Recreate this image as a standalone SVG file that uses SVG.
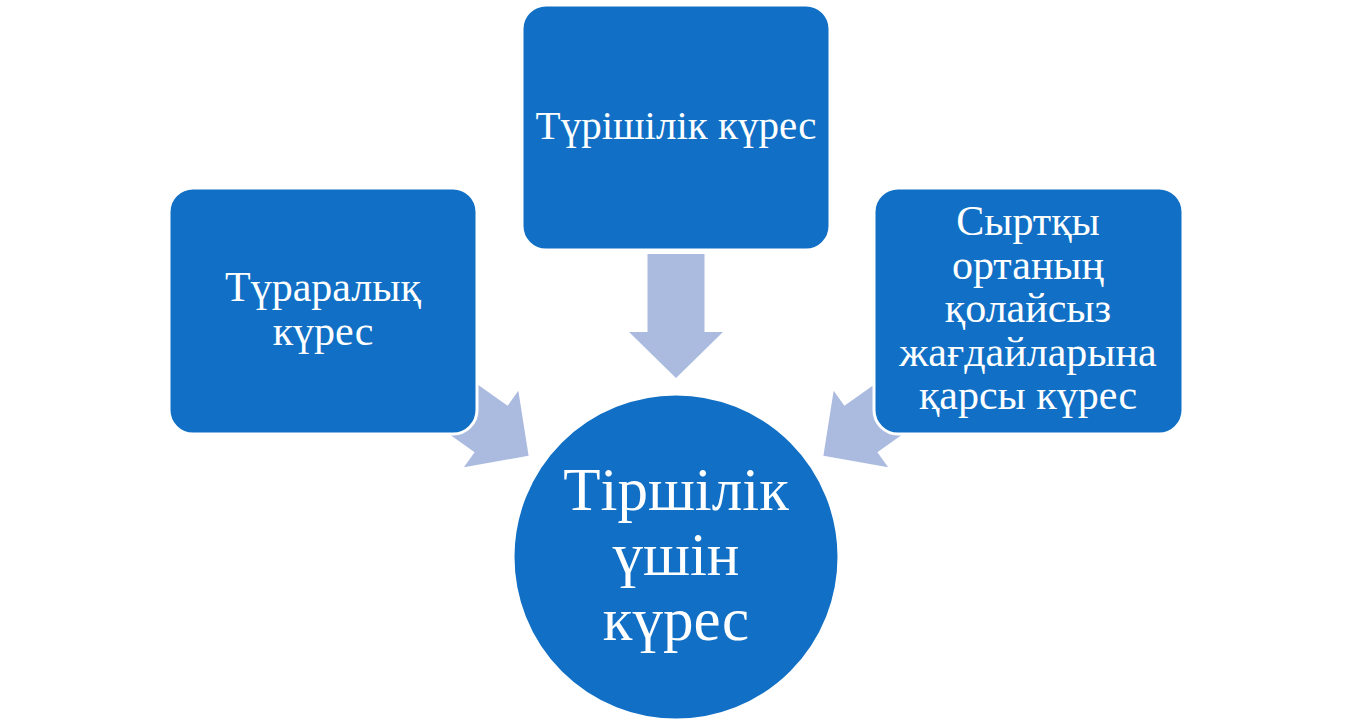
<svg xmlns="http://www.w3.org/2000/svg" width="1352" height="725" viewBox="0 0 1352 725">
<defs>
<style>
.box{fill:#1170C5;stroke:#FFFFFF;stroke-width:3}
.arr{fill:#ABBBE0}
.t{font-family:"Liberation Serif","DejaVu Serif",serif;fill:#FFFFFF;text-anchor:middle;font-size:42px}
.top{font-size:41px}
.big{font-size:61px}
</style>
<path id="arrow" d="M-124,-28.5 L-46,-28.5 L-46,-47 L0,0 L-46,47 L-46,28.5 L-124,28.5 Z"/>
</defs>
<rect width="1352" height="725" fill="#FFFFFF"/>
<g id="connectors">
<use href="#arrow" class="arr" transform="translate(676,378) rotate(90)"/>
<use href="#arrow" class="arr" transform="translate(528.6,455.7) rotate(35.4)"/>
<use href="#arrow" class="arr" transform="translate(823.4,455.7) rotate(144.6)"/>
</g>
<g id="node-top">
<rect class="box" x="522" y="5" width="308" height="245" rx="24"/>
<text class="t top" x="676" y="139">Түрішілік күрес</text>
</g>
<g id="node-left">
<rect class="box" x="169" y="188" width="308" height="246" rx="24"/>
<text class="t" x="323" y="301">Түраралық</text>
<text class="t" x="323" y="345">күрес</text>
</g>
<g id="node-right">
<rect class="box" x="874" y="188" width="309" height="246" rx="24"/>
<text class="t" x="1028" y="235">Сыртқы</text>
<text class="t" x="1028" y="279">ортаның</text>
<text class="t" x="1028" y="322">қолайсыз</text>
<text class="t" x="1028" y="366">жағдайларына</text>
<text class="t" x="1028" y="409">қарсы күрес</text>
</g>
<g id="node-center">
<circle class="box" cx="676" cy="557" r="163"/>
<text class="t big" x="676" y="510">Тіршілік</text>
<text class="t big" x="676" y="575">үшін</text>
<text class="t big" x="676" y="640">күрес</text>
</g>
</svg>
